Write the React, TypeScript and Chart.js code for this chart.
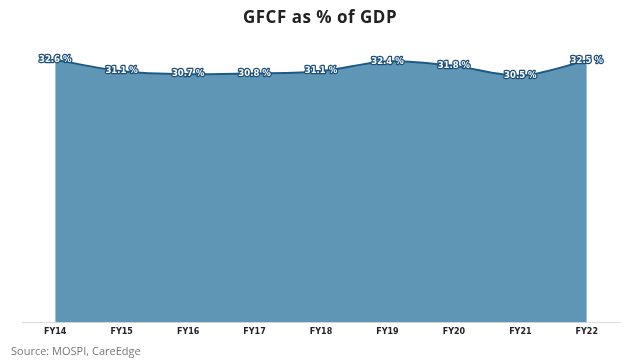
import React, { useEffect, useRef } from "react";
import { Chart, registerables } from "chart.js";

Chart.register(...registerables);

const categories = ["FY14", "FY15", "FY16", "FY17", "FY18", "FY19", "FY20", "FY21", "FY22"];
const gfcfShare = [32.6, 31.1, 30.7, 30.8, 31.1, 32.4, 31.8, 30.5, 32.5];
const titleText = "GFCF as % of GDP";
const sourceText = "Source: MOSPI, CareEdge";

const labelPlugin = {
  id: "valueLabels",
  afterDatasetsDraw(chart: any) {
    const ctx = chart.ctx;
    const meta = chart.getDatasetMeta(0);
    const data = chart.data.datasets[0].data as number[];
    ctx.save();
    ctx.font = "bold 8.5px 'DejaVu Sans'";
    ctx.textAlign = "center";
    ctx.textBaseline = "middle";
    ctx.lineJoin = "round";
    meta.data.forEach((pt: any, i: number) => {
      const txt = data[i].toFixed(1) + " %";
      const x = pt.x;
      const y = pt.y;
      ctx.strokeStyle = "#1d4e78";
      ctx.lineWidth = 2.5;
      ctx.strokeText(txt, x, y);
      ctx.fillStyle = "#ffffff";
      ctx.fillText(txt, x, y);
    });
    ctx.restore();
  },
};

const textPlugin = {
  id: "frameTexts",
  afterDraw(chart: any) {
    const ctx = chart.ctx;
    ctx.save();
    ctx.textBaseline = "middle";
    ctx.font = "bold 17px 'Open Sans'";
    (ctx as any).letterSpacing = "0.5px";
    ctx.fillStyle = "#222222";
    ctx.textAlign = "center";
    ctx.fillText(titleText, 320, 18);
    (ctx as any).letterSpacing = "0px";
    ctx.font = "11px 'Open Sans'";
    ctx.fillStyle = "#777777";
    ctx.textAlign = "left";
    ctx.fillText(sourceText, 11, 352);
    ctx.restore();
  },
};

export default function App() {
  const ref = useRef<HTMLCanvasElement | null>(null);
  useEffect(() => {
    if (!ref.current) return;
    const chart = new Chart(ref.current, {
      type: "line",
      data: {
        labels: categories,
        datasets: [
          {
            data: gfcfShare,
            fill: "start",
            backgroundColor: "#6096b5",
            borderColor: "#1c5a84",
            borderWidth: 2,
            pointRadius: 0,
            tension: 0.3,
          },
        ],
      },
      options: {
        animation: false,
        responsive: false,
        maintainAspectRatio: false,
        layout: { padding: { left: 22, right: 20, top: 34, bottom: 18 } },
        plugins: {
          legend: { display: false },
          tooltip: { enabled: false },
          title: { display: false },
        },
        scales: {
          x: {
            offset: true,
            grid: { display: false, drawTicks: false },
            border: { display: true, color: "#dddddd", width: 1 },
            ticks: {
              color: "#222222",
              padding: 5,
              font: { family: "'DejaVu Sans'", size: 8, weight: "bold" },
              maxRotation: 0,
            },
          },
          y: {
            display: false,
            min: -2,
            max: 36,
          },
        },
      },
      plugins: [labelPlugin, textPlugin],
    });
    return () => chart.destroy();
  }, []);
  return (
    <div style={{ position: "absolute", left: 0, top: 0, width: 640, height: 360, background: "#fff" }}>
      <canvas ref={ref} width={640} height={360} style={{ width: 640, height: 360 }} />
    </div>
  );
}
